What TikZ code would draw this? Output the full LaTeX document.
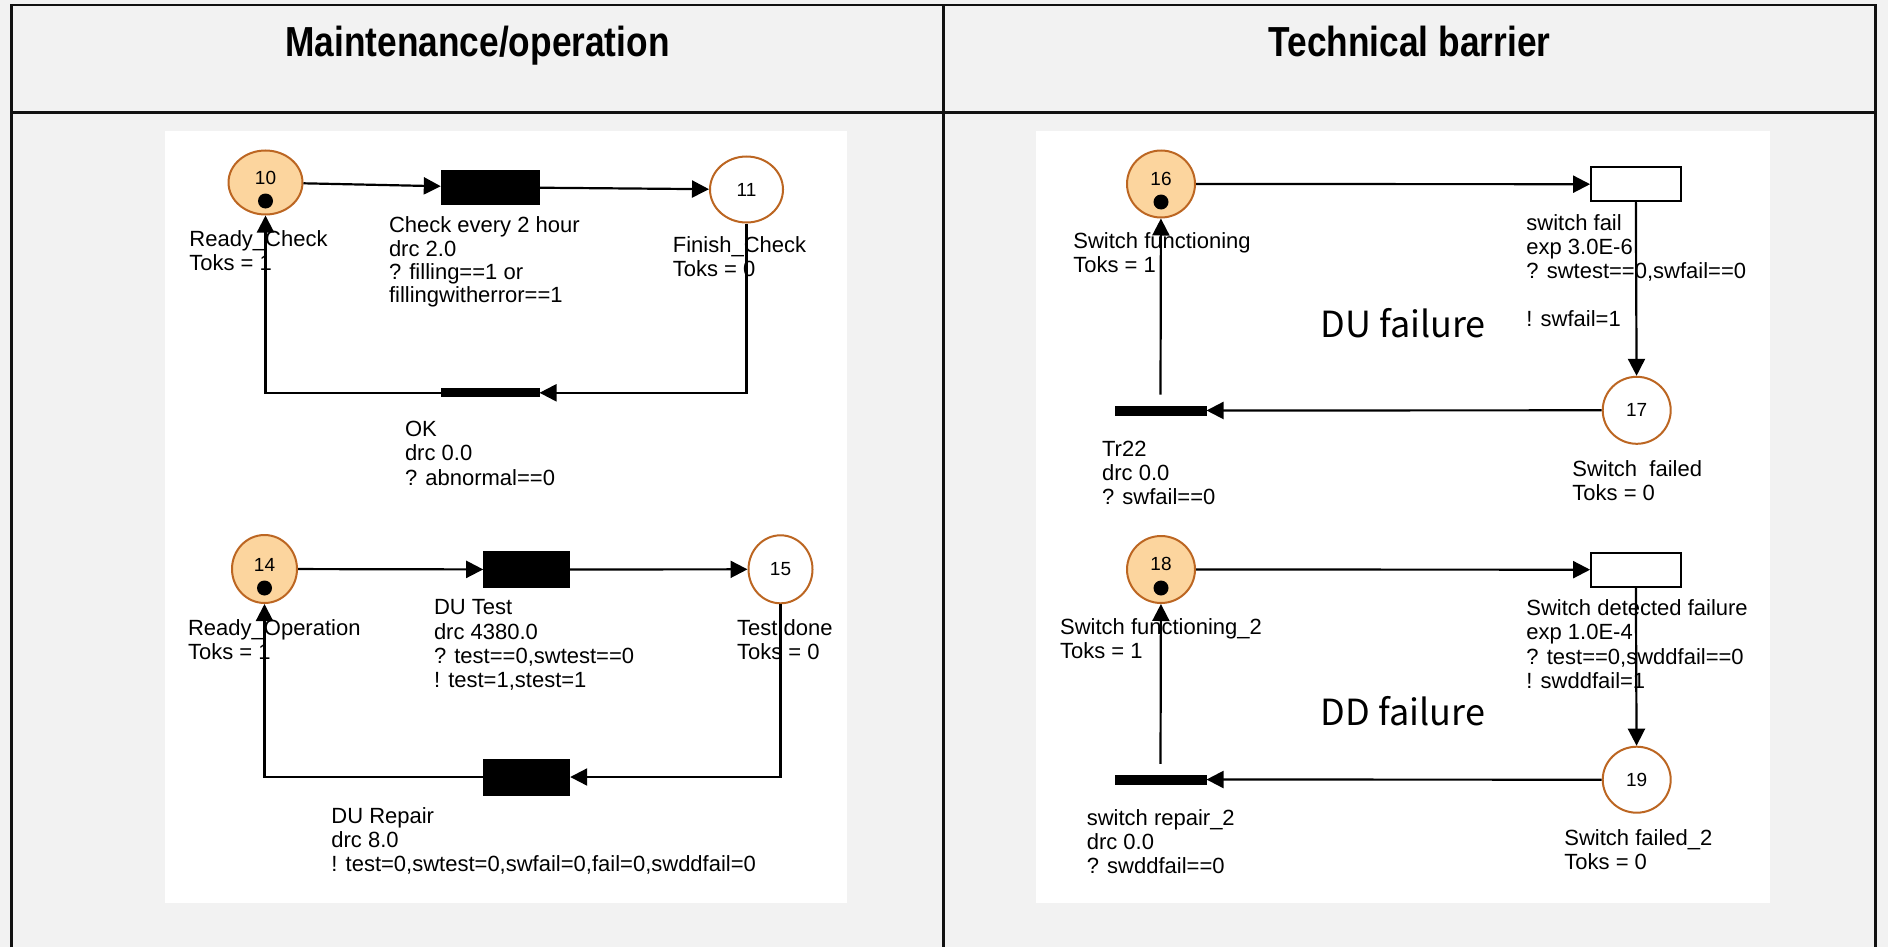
\documentclass[tikz,border=0pt]{standalone}
\usepackage{fontspec}
\setmainfont{Liberation Sans}
\newfontfamily\krfont{Noto Sans CJK KR}
\usetikzlibrary{shapes.geometric,arrows.meta,calc}
\definecolor{bgc}{RGB}{242,242,242}
\definecolor{pfill}{RGB}{252,213,158}
\definecolor{pdraw}{RGB}{188,102,34}
\definecolor{rule}{RGB}{17,17,17}
\begin{document}
\begin{tikzpicture}[x=0.5pt,y=-0.5pt,
  place/.style={ellipse,draw=pdraw,fill=pfill,line width=1pt,inner sep=0pt},
  emptyplace/.style={ellipse,draw=pdraw,fill=white,line width=1pt,inner sep=0pt},
  imm/.style={rectangle,fill=black,draw=black,line width=0.5pt,inner sep=0pt},
  timed/.style={rectangle,fill=white,draw=black,line width=1pt,inner sep=0pt},
  arc/.style={-{Triangle[length=8.5pt,width=8.5pt]},line width=1.1pt,draw=black},
  lbl/.style={anchor=north west,align=left,inner sep=0pt,font=\fontsize{11}{12.1}\selectfont},
  num/.style={inner sep=0pt,font=\fontsize{9.5}{10}\selectfont},
  tok/.style={circle,fill=black,minimum size=7.5pt,inner sep=0pt},
  title/.style={anchor=base,inner sep=0pt},
  big/.style={anchor=base,inner sep=0pt,font=\krfont\fontsize{18}{20}\selectfont},
  tline/.style={line width=1.2pt,draw=rule}
]
\useasboundingbox (0,0) rectangle (1888,947);
\fill[bgc] (0,0) rectangle (1888,947);
% white panels
\fill[white] (165,131) rectangle (846.5,903.3);
\fill[white] (1036,131) rectangle (1770.4,903.3);
% table
\draw[tline] (11.5,947) -- (11.5,5) -- (1875.5,5) -- (1875.5,947);
\draw[tline] (943.5,5) -- (943.5,947);
\draw[line width=1.5pt,draw=rule] (11.5,112.5) -- (1875.5,112.5);
\node[title] (h1) at (477.5,56.5) {\scalebox{0.84}[1]{\fontsize{21}{22}\selectfont\bfseries Maintenance/operation}};
\node[title] (h2) at (1409.5,56.5) {\scalebox{0.84}[1]{\fontsize{21}{22}\selectfont\bfseries Technical barrier}};

% ---------- left top ----------
\node[place,minimum width=37pt,minimum height=32pt] (p10) at (265.5,182.5) {};
\node[num] (n10) at ($(p10)+(0,-5)$) {10};
\node[tok] (k10) at ($(p10)+(0,18.5)$) {};
\node[imm,minimum width=49pt,minimum height=16.7pt] (t1) at (490.3,187.3) {};
\node[emptyplace,minimum width=36.5pt,minimum height=33pt] (p11) at (746.5,189.5) {};
\node[num] (n11) at (p11) {11};
\node[imm,minimum width=49pt,minimum height=3.9pt] (t2) at (490,392.8) {};
\draw[arc] (p10) -- (t1);
\draw[arc] (t1) -- (p11);
\draw[arc] (p11) |- (t2);
\draw[arc] (t2) -| (p10);
\node[lbl] (l10) at (189,230.3) {Ready\_Check\\Toks = 1};
\node[lbl,font=\fontsize{11}{11.7}\selectfont] (lt1) at (388.6,216.3) {Check every 2 hour\\drc 2.0\\? filling==1 or\\fillingwitherror==1};
\node[lbl] (l11) at (672.5,236.3) {Finish\_Check\\Toks = 0};
\node[lbl] (lt2) at (404.6,421) {OK\\drc 0.0\\? abnormal==0};

% ---------- left bottom ----------
\node[place,minimum width=32.5pt,minimum height=34pt] (p14) at (264.5,569) {};
\node[num] (n14) at ($(p14)+(0,-4.5)$) {14};
\node[tok] (k14) at ($(p14)+(0,19)$) {};
\node[imm,minimum width=43pt,minimum height=18pt] (t3) at (526.7,569.5) {};
\node[emptyplace,minimum width=32pt,minimum height=34pt] (p15) at (780.5,569.3) {};
\node[num] (n15) at (p15) {15};
\node[imm,minimum width=43pt,minimum height=18pt] (t4) at (526.7,777) {};
\draw[arc] (p14) -- (t3);
\draw[arc] (t3) -- (p15);
\draw[arc] (p15) |- (t4);
\draw[arc] (t4) -| (p14);
\node[lbl] (l14) at (187.7,618.7) {Ready\_Operation\\Toks = 1};
\node[lbl] (lt3) at (433.6,599.3) {DU Test\\drc 4380.0\\? test==0,swtest==0\\! test=1,stest=1};
\node[lbl] (l15) at (736.7,618.7) {Test done\\Toks = 0};
\node[lbl] (lt4) at (331,807) {DU Repair\\drc 8.0\\! test=0,swtest=0,swfail=0,fail=0,swddfail=0};

% ---------- right top ----------
\node[place,minimum width=34pt,minimum height=33.5pt] (p16) at (1161,184) {};
\node[num] (n16) at ($(p16)+(0,-5)$) {16};
\node[tok] (k16) at ($(p16)+(0,18)$) {};
\node[timed,minimum width=44.7pt,minimum height=16.8pt] (t5) at (1635.8,184.2) {};
\node[emptyplace,minimum width=34pt,minimum height=33.5pt] (p17) at (1636.7,410.3) {};
\node[num] (n17) at (p17) {17};
\node[imm,minimum width=45.5pt,minimum height=4.5pt] (t6) at (1160.5,410.5) {};
\coordinate (c6) at ($(t6.north)+(0,-11)$);
\draw[arc] (p16) -- (t5);
\draw[arc] (t5) -- (p17);
\draw[arc] (p17) -- (t6);
\draw[arc] (c6) -- (p16);
\node[lbl] (l16) at (1073,232) {Switch functioning\\Toks = 1};
\node[lbl] (lt5) at (1526,213.7) {switch fail\\exp 3.0E-6\\? swtest==0,swfail==0\\[12.1pt]! swfail=1};
\node[big] (du) at (1403,337.3) {DU\ failure};
\node[lbl] (lt6) at (1101.7,440.3) {Tr22\\drc 0.0\\? swfail==0};
\node[lbl] (l17) at (1572,459.7) {Switch\ \ failed\\Toks = 0};

% ---------- right bottom ----------
\node[place,minimum width=34pt,minimum height=33.5pt] (p18) at (1161,569.5) {};
\node[num] (n18) at ($(p18)+(0,-6)$) {18};
\node[tok] (k18) at ($(p18)+(0,18.5)$) {};
\node[timed,minimum width=44.7pt,minimum height=17pt] (t7) at (1635.8,569.7) {};
\node[emptyplace,minimum width=34pt,minimum height=33pt] (p19) at (1636.7,779.7) {};
\node[num] (n19) at (p19) {19};
\node[imm,minimum width=45.5pt,minimum height=4.5pt] (t8) at (1160.5,779.5) {};
\coordinate (c8) at ($(t8.north)+(0,-10.7)$);
\draw[arc] (p18) -- (t7);
\draw[arc] (t7) -- (p19);
\draw[arc] (p19) -- (t8);
\draw[arc] (c8) -- (p18);
\node[lbl] (l18) at (1059.7,618) {Switch functioning\_2\\Toks = 1};
\node[lbl] (lt7) at (1526,599.3) {Switch detected failure\\exp 1.0E-4\\? test==0,swddfail==0\\! swddfail=1};
\node[big] (dd) at (1403,725) {DD failure};
\node[lbl] (lt8) at (1086.4,808.7) {switch repair\_2\\drc 0.0\\? swddfail==0};
\node[lbl] (l19) at (1564,828.7) {Switch failed\_2\\Toks = 0};
\end{tikzpicture}
\end{document}
